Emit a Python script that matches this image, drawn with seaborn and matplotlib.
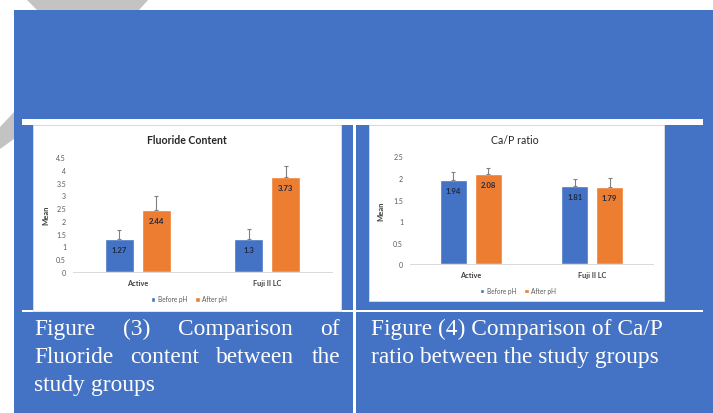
import matplotlib
matplotlib.use('Agg')
import matplotlib.pyplot as plt
import seaborn as sns
import pandas as pd
import numpy as np
from matplotlib.patches import Rectangle, Polygon

# data
groups = ['Active', 'Fuji II LC']
phases = ['Before pH', 'After pH']

fluoride_before = [1.27, 1.3]
fluoride_after = [2.44, 3.73]
fluoride_sd_before = [0.37, 0.38]
fluoride_sd_after = [0.55, 0.42]

cap_before = [1.94, 1.81]
cap_after = [2.08, 1.79]
cap_sd_before = [0.20, 0.16]
cap_sd_after = [0.16, 0.20]

caption_left = [['Figure', '(3)', 'Comparison', 'of'],
                ['Fluoride', 'content', 'between', 'the'],
                ['study', 'groups']]
caption_right = ['Figure (4) Comparison of Ca/P',
                 'ratio between the study groups']

BLUE = '#4472C4'
ORANGE = '#ED7D31'

sns.set_theme(style='white')
plt.rcParams['font.family'] = ['Lato', 'DejaVu Sans']

W, H = 713, 414


def fx(x):
    return x / W


def fy(y):
    return 1 - y / H


fig = plt.figure(figsize=(7.13, 4.14), dpi=100, facecolor='white')


def rect(x0, y0, x1, y1, color, z, ec='none'):
    fig.add_artist(Rectangle((fx(x0), fy(y1)), fx(x1) - fx(x0), fy(y0) - fy(y1),
                             transform=fig.transFigure, facecolor=color,
                             edgecolor=ec, lw=0.6, zorder=z))


def poly(pts, color, z):
    fig.add_artist(Polygon([(fx(x), fy(y)) for x, y in pts], closed=True,
                           transform=fig.transFigure, facecolor=color,
                           edgecolor='none', zorder=z))


# slide background
poly([(26, 0), (149, 0), (139, 11), (37, 11)], '#C3C3C3', -5)
poly([(0, 128), (14, 113), (14, 140), (0, 150)], '#C3C3C3', -5)
rect(14, 11, 713, 414, BLUE, -4)
rect(22, 120, 703, 125.7, 'white', -3)
rect(22, 311.3, 703, 313.3, 'white', -3)
rect(353.3, 120, 356.3, 414, 'white', -3)
rect(33, 126, 341, 311.5, 'white', -2, ec='#E0E0E0')
rect(369, 126, 664, 301.5, 'white', -2, ec='#E0E0E0')


def draw_chart(box, before, after, sd_before, sd_after, ymax, title, title_xy,
               title_weight, legend_xy, ylabel_x):
    x0, y0, x1, y1 = box
    ax = fig.add_axes([fx(x0), fy(y1), fx(x1) - fx(x0), fy(y0) - fy(y1)])
    ax.set_facecolor('none')
    df = pd.DataFrame({'group': groups * 2,
                       'phase': [phases[0]] * len(groups) + [phases[1]] * len(groups),
                       'mean': before + after})
    sns.barplot(data=df, x='group', y='mean', hue='phase', hue_order=phases,
                palette=[BLUE, ORANGE], width=0.57, gap=0.22, errorbar=None,
                saturation=1, ax=ax)
    for cont, sds in zip(ax.containers, [sd_before, sd_after]):
        xs = [b.get_x() + b.get_width() / 2 for b in cont]
        ys = [b.get_height() for b in cont]
        ax.errorbar(xs, ys, yerr=[[0] * len(sds), sds], fmt='none',
                    ecolor='#808080', elinewidth=0.8, capsize=1.5, capthick=0.8)
        ax.bar_label(cont, fmt='{:g}', padding=-10, fontsize=5.6,
                     fontweight='bold', color='#1F2A44')
    ax.set_ylim(0, ymax)
    ticks = np.arange(0, ymax + 0.01, 0.5)
    ax.set_yticks(ticks)
    ax.set_yticklabels(['{:g}'.format(t) for t in ticks])
    ax.set_xlim(-0.5, 1.5)
    for s in ['top', 'right', 'left']:
        ax.spines[s].set_visible(False)
    ax.spines['bottom'].set_color('#D9D9D9')
    ax.spines['bottom'].set_linewidth(0.7)
    ax.tick_params(axis='y', length=0, labelsize=5, colors='#595959', pad=5)
    ax.tick_params(axis='x', length=0, labelsize=5.3, colors='#404040', pad=5)
    for lab in ax.get_xticklabels():
        lab.set_fontweight('bold')
    ax.set_xlabel('')
    ax.set_ylabel('Mean', fontsize=5.5, color='#404040', fontweight='bold')
    ax.yaxis.set_label_coords((ylabel_x - x0) / (x1 - x0), 0.5)
    sns.move_legend(ax, 'center', bbox_to_anchor=(fx(legend_xy[0]), fy(legend_xy[1])),
                    bbox_transform=fig.transFigure, ncol=2, frameon=False,
                    title=None, fontsize=4.7, handlelength=0.7, handleheight=0.7,
                    columnspacing=1.2, handletextpad=0.4, labelcolor='#595959')
    fig.text(fx(title_xy[0]), fy(title_xy[1]), title, ha='center', va='center',
             fontsize=7.6, fontweight=title_weight, color='#262626')
    return ax


draw_chart((73, 158.3, 332, 272.7), fluoride_before, fluoride_after,
           fluoride_sd_before, fluoride_sd_after, 4.5, 'Fluoride Content',
           (187, 141), 'bold', (189, 300), 49)
draw_chart((410, 157.3, 653, 265.3), cap_before, cap_after,
           cap_sd_before, cap_sd_after, 2.5, 'Ca/P ratio',
           (515, 140.7), 'normal', (518, 291.7), 384)

# captions
cap_size = 16.8
cap_kw = dict(fontsize=cap_size, color='white', family=['Liberation Serif', 'DejaVu Serif'],
              va='baseline', transform=fig.transFigure)
renderer = fig.canvas.get_renderer()
baselines = [335, 363.3, 391]
left_x0, left_x1 = 34, 340
for i, words in enumerate(caption_left):
    texts = [fig.text(0, fy(baselines[i]), w, ha='left', **cap_kw) for w in words]
    widths = [t.get_window_extent(renderer).width for t in texts]
    if i == len(caption_left) - 1:
        gap = cap_size * 100 / 72 * 0.25
    else:
        gap = (left_x1 - left_x0 - sum(widths)) / (len(words) - 1)
    x = left_x0
    for t, wd in zip(texts, widths):
        t.set_x(fx(x))
        x += wd + gap

for i, line in enumerate(caption_right):
    fig.text(fx(370.5), fy(baselines[i]), line, ha='left', **cap_kw)

fig.savefig('out.png', dpi=100)
